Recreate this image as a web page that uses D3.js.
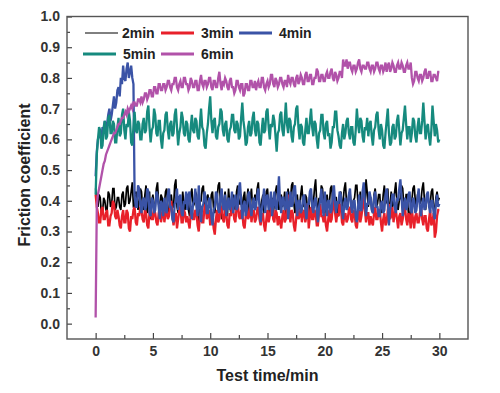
<!DOCTYPE html>
<html>
<head>
<meta charset="utf-8">
<script src="https://cdn.jsdelivr.net/npm/d3@7"></script>
<style>
  body { margin: 0; background: #fff; }
  svg { display: block; font-family: "Liberation Sans", Arial, sans-serif; }
</style>
</head>
<body>
<svg></svg>
<script>
// sample times (min), one row = 2 min
var timeMin = [
  0,.1,.2,.3,.4,.5,.6,.7,.8,.9,1,1.1,1.2,1.3,1.4,1.5,1.6,1.7,1.8,1.9,
  2,2.1,2.2,2.3,2.4,2.5,2.6,2.7,2.8,2.9,3,3.1,3.2,3.3,3.4,3.5,3.6,3.7,3.8,3.9,
  4,4.1,4.2,4.3,4.4,4.5,4.6,4.7,4.8,4.9,5,5.1,5.2,5.3,5.4,5.5,5.6,5.7,5.8,5.9,
  6,6.1,6.2,6.3,6.4,6.5,6.6,6.7,6.8,6.9,7,7.1,7.2,7.3,7.4,7.5,7.6,7.7,7.8,7.9,
  8,8.1,8.2,8.3,8.4,8.5,8.6,8.7,8.8,8.9,9,9.1,9.2,9.3,9.4,9.5,9.6,9.7,9.8,9.9,
  10,10.1,10.2,10.3,10.4,10.5,10.6,10.7,10.8,10.9,11,11.1,11.2,11.3,11.4,11.5,11.6,11.7,11.8,11.9,
  12,12.1,12.2,12.3,12.4,12.5,12.6,12.7,12.8,12.9,13,13.1,13.2,13.3,13.4,13.5,13.6,13.7,13.8,13.9,
  14,14.1,14.2,14.3,14.4,14.5,14.6,14.7,14.8,14.9,15,15.1,15.2,15.3,15.4,15.5,15.6,15.7,15.8,15.9,
  16,16.1,16.2,16.3,16.4,16.5,16.6,16.7,16.8,16.9,17,17.1,17.2,17.3,17.4,17.5,17.6,17.7,17.8,17.9,
  18,18.1,18.2,18.3,18.4,18.5,18.6,18.7,18.8,18.9,19,19.1,19.2,19.3,19.4,19.5,19.6,19.7,19.8,19.9,
  20,20.1,20.2,20.3,20.4,20.5,20.6,20.7,20.8,20.9,21,21.1,21.2,21.3,21.4,21.5,21.6,21.7,21.8,21.9,
  22,22.1,22.2,22.3,22.4,22.5,22.6,22.7,22.8,22.9,23,23.1,23.2,23.3,23.4,23.5,23.6,23.7,23.8,23.9,
  24,24.1,24.2,24.3,24.4,24.5,24.6,24.7,24.8,24.9,25,25.1,25.2,25.3,25.4,25.5,25.6,25.7,25.8,25.9,
  26,26.1,26.2,26.3,26.4,26.5,26.6,26.7,26.8,26.9,27,27.1,27.2,27.3,27.4,27.5,27.6,27.7,27.8,27.9,
  28,28.1,28.2,28.3,28.4,28.5,28.6,28.7,28.8,28.9,29,29.1,29.2,29.3,29.4,29.5,29.6,29.7,29.8,29.9,
  30
];

var min2 = [
  .44,.40,.38,.42,.41,.36,.36,.41,.40,.37,.37,.43,.42,.38,.39,.44,.44,.37,.38,.41,
  .41,.38,.37,.42,.43,.38,.39,.44,.45,.39,.40,.43,.46,.38,.38,.43,.42,.37,.40,.44,
  .43,.38,.37,.42,.45,.36,.39,.43,.34,.40,.42,.37,.38,.44,.46,.39,.36,.42,.41,.37,
  .39,.43,.44,.37,.35,.41,.42,.38,.38,.45,.47,.38,.36,.41,.40,.36,.43,.39,.37,.42,
  .41,.37,.35,.42,.44,.38,.39,.43,.42,.36,.33,.40,.40,.44,.45,.38,.37,.41,.42,.38,
  .38,.42,.43,.37,.36,.40,.41,.45,.46,.39,.34,.38,.40,.43,.38,.35,.44,.39,.36,.41,
  .42,.38,.37,.43,.45,.39,.39,.42,.35,.41,.43,.37,.40,.44,.36,.41,.44,.38,.38,.42,
  .40,.44,.46,.39,.37,.40,.42,.36,.38,.43,.44,.38,.35,.40,.41,.36,.39,.43,.45,.40,
  .37,.41,.42,.38,.39,.43,.34,.40,.44,.38,.40,.45,.46,.39,.36,.41,.42,.37,.38,.42,
  .45,.39,.38,.42,.41,.37,.36,.42,.43,.38,.39,.44,.47,.39,.37,.41,.40,.45,.44,.39,
  .36,.40,.42,.38,.39,.44,.45,.39,.38,.41,.41,.36,.35,.42,.43,.38,.40,.44,.46,.39,
  .38,.42,.43,.38,.37,.40,.41,.45,.45,.39,.39,.43,.36,.40,.42,.37,.47,.43,.38,.41,
  .41,.37,.36,.42,.44,.38,.39,.42,.42,.36,.37,.42,.45,.39,.40,.44,.35,.39,.43,.38,
  .39,.43,.46,.39,.37,.40,.41,.45,.44,.38,.38,.42,.42,.36,.33,.39,.40,.44,.45,.40,
  .38,.42,.43,.39,.40,.44,.46,.40,.37,.41,.42,.38,.39,.43,.44,.38,.36,.41,.43,.40,
  .41
];

var min3 = [
  .42,.38,.36,.33,.33,.37,.38,.34,.34,.36,.37,.32,.32,.35,.36,.40,.39,.35,.34,.37,
  .35,.32,.31,.35,.37,.33,.33,.37,.36,.31,.30,.35,.34,.37,.38,.33,.32,.36,.35,.38,
  .37,.34,.33,.37,.36,.32,.31,.36,.39,.34,.34,.37,.36,.33,.32,.36,.38,.33,.35,.38,
  .33,.36,.37,.34,.35,.39,.40,.35,.32,.35,.36,.31,.34,.37,.38,.33,.33,.37,.36,.33,
  .35,.33,.31,.36,.38,.34,.34,.37,.36,.32,.30,.35,.37,.33,.33,.38,.39,.34,.35,.37,
  .32,.35,.36,.31,.29,.34,.37,.33,.34,.38,.38,.34,.33,.37,.36,.32,.31,.36,.35,.39,
  .37,.34,.33,.38,.40,.35,.34,.37,.36,.32,.31,.35,.38,.34,.35,.39,.33,.36,.37,.33,
  .34,.37,.38,.34,.32,.35,.36,.32,.30,.34,.37,.33,.35,.38,.39,.34,.33,.37,.36,.32,
  .35,.33,.31,.35,.37,.33,.34,.39,.42,.36,.33,.37,.36,.32,.30,.34,.38,.34,.35,.38,
  .33,.36,.37,.33,.35,.39,.31,.35,.38,.34,.34,.37,.36,.32,.32,.36,.39,.35,.35,.33,
  .36,.32,.30,.34,.37,.33,.34,.38,.41,.36,.33,.36,.35,.39,.38,.33,.32,.35,.36,.33,
  .34,.37,.38,.34,.33,.37,.36,.32,.31,.35,.37,.33,.35,.38,.42,.37,.33,.36,.36,.32,
  .35,.33,.32,.36,.38,.34,.34,.37,.37,.33,.30,.34,.36,.32,.33,.37,.39,.34,.35,.38,
  .33,.36,.37,.34,.31,.35,.36,.32,.34,.37,.38,.34,.32,.36,.35,.31,.37,.34,.31,.35,
  .36,.33,.33,.36,.38,.34,.32,.35,.35,.31,.30,.34,.37,.32,.33,.36,.28,.30,.35,.37,
  .37
];

var min4 = [
  .48,.56,.60,.61,.62,.60,.64,.63,.66,.62,.65,.68,.70,.66,.68,.71,.74,.70,.72,.76,
  .77,.74,.80,.78,.84,.80,.79,.83,.85,.80,.82,.84,.80,.78,.42,.38,.38,.45,.44,.39,
  .36,.40,.41,.37,.38,.44,.43,.36,.35,.41,.40,.36,.37,.43,.42,.38,.34,.40,.39,.35,
  .41,.37,.36,.42,.44,.38,.38,.34,.33,.39,.40,.44,.37,.41,.42,.36,.35,.40,.39,.43,
  .37,.42,.43,.37,.34,.39,.40,.44,.38,.35,.45,.39,.33,.38,.39,.43,.41,.36,.36,.41,
  .40,.35,.32,.37,.38,.43,.42,.37,.36,.41,.44,.38,.37,.42,.35,.39,.41,.37,.39,.43,
  .36,.40,.42,.37,.38,.44,.46,.40,.34,.38,.40,.35,.37,.42,.43,.38,.35,.39,.41,.37,
  .38,.42,.44,.38,.33,.37,.40,.44,.36,.41,.42,.37,.39,.43,.35,.39,.43,.38,.37,.42,
  .48,.39,.36,.41,.41,.37,.38,.43,.34,.38,.43,.38,.39,.44,.45,.39,.35,.40,.40,.36,
  .37,.41,.42,.37,.34,.39,.39,.43,.44,.38,.36,.40,.41,.37,.33,.38,.40,.44,.38,.35,
  .43,.38,.35,.40,.40,.36,.37,.42,.45,.39,.36,.40,.39,.43,.42,.37,.34,.39,.41,.37,
  .38,.42,.44,.38,.36,.40,.40,.35,.33,.38,.42,.37,.37,.43,.46,.40,.35,.39,.39,.43,
  .41,.37,.36,.41,.43,.38,.38,.35,.35,.39,.40,.36,.37,.42,.44,.39,.32,.37,.39,.42,
  .42,.38,.36,.41,.40,.44,.47,.41,.35,.39,.41,.37,.38,.42,.43,.37,.36,.41,.40,.36,
  .37,.41,.44,.38,.35,.39,.41,.37,.38,.42,.43,.38,.36,.40,.40,.36,.34,.39,.42,.38,
  .39
];

var min5 = [
  .42,.55,.60,.64,.63,.57,.58,.64,.66,.60,.61,.67,.68,.62,.62,.66,.65,.59,.59,.64,
  .67,.61,.62,.68,.70,.63,.60,.65,.64,.69,.66,.59,.58,.64,.69,.63,.62,.66,.65,.60,
  .60,.65,.67,.62,.63,.69,.71,.64,.59,.63,.64,.70,.68,.62,.61,.66,.66,.60,.57,.62,
  .63,.68,.69,.63,.60,.65,.66,.61,.62,.68,.70,.64,.58,.62,.64,.69,.67,.62,.61,.66,
  .65,.60,.59,.64,.68,.63,.62,.67,.66,.61,.60,.65,.70,.64,.63,.58,.57,.62,.65,.70,
  .74,.66,.62,.66,.67,.61,.60,.64,.65,.70,.69,.63,.61,.65,.66,.60,.59,.63,.64,.68,
  .68,.63,.62,.66,.65,.60,.61,.67,.72,.66,.63,.58,.59,.64,.66,.61,.62,.67,.69,.63,
  .61,.66,.65,.59,.58,.63,.67,.62,.63,.69,.70,.64,.60,.65,.64,.68,.66,.61,.56,.62,
  .63,.68,.69,.63,.61,.66,.72,.65,.62,.67,.66,.61,.59,.64,.65,.70,.71,.64,.60,.65,
  .64,.59,.58,.63,.67,.62,.62,.66,.70,.64,.61,.66,.65,.60,.57,.62,.63,.68,.68,.62,
  .60,.65,.66,.61,.62,.57,.59,.64,.64,.69,.69,.63,.61,.58,.57,.62,.65,.60,.62,.66,
  .67,.62,.60,.64,.64,.59,.58,.63,.70,.65,.62,.67,.66,.61,.59,.64,.63,.67,.61,.65,
  .66,.61,.58,.63,.64,.68,.69,.63,.60,.65,.63,.58,.57,.62,.66,.70,.62,.58,.59,.64,
  .65,.60,.61,.66,.68,.63,.58,.62,.63,.67,.71,.65,.60,.64,.64,.59,.62,.67,.66,.61,
  .59,.64,.67,.62,.62,.66,.72,.66,.60,.64,.65,.61,.58,.63,.71,.66,.61,.65,.63,.59,
  .60
];

var min6 = [
  .02,.38,.42,.44,.46,.48,.50,.52,.53,.55,.56,.57,.58,.59,.60,.61,.62,.62,.63,.64,
  .65,.65,.66,.67,.67,.68,.69,.68,.70,.69,.70,.71,.70,.72,.72,.71,.71,.73,.73,.72,
  .74,.72,.73,.75,.75,.73,.74,.76,.76,.74,.74,.77,.77,.75,.75,.78,.78,.76,.76,.78,
  .78,.76,.77,.79,.79,.77,.76,.78,.78,.80,.80,.77,.76,.78,.79,.77,.77,.80,.80,.78,
  .78,.76,.77,.80,.79,.77,.77,.79,.79,.76,.76,.79,.81,.78,.77,.79,.79,.77,.78,.80,
  .80,.77,.76,.79,.79,.77,.77,.80,.82,.78,.76,.79,.78,.80,.79,.77,.76,.79,.80,.77,
  .77,.75,.76,.79,.79,.77,.76,.78,.78,.74,.75,.78,.78,.76,.76,.79,.79,.77,.77,.79,
  .76,.78,.79,.77,.77,.80,.80,.77,.76,.78,.79,.77,.78,.81,.81,.78,.77,.80,.79,.77,
  .78,.80,.80,.78,.77,.79,.79,.77,.81,.79,.78,.80,.80,.78,.77,.80,.81,.78,.79,.81,
  .80,.78,.78,.81,.82,.79,.79,.81,.81,.78,.78,.80,.80,.83,.82,.79,.79,.81,.81,.79,
  .79,.81,.82,.80,.80,.82,.83,.80,.79,.82,.81,.79,.80,.82,.82,.80,.86,.84,.84,.86,
  .83,.85,.85,.83,.82,.84,.84,.82,.83,.85,.86,.83,.82,.84,.84,.83,.83,.85,.85,.83,
  .82,.84,.84,.82,.83,.85,.85,.83,.82,.84,.84,.82,.83,.85,.82,.84,.85,.82,.83,.85,
  .84,.82,.82,.84,.85,.83,.83,.85,.84,.82,.82,.84,.85,.83,.83,.85,.80,.78,.79,.82,
  .82,.80,.79,.81,.81,.79,.80,.82,.83,.80,.80,.82,.82,.79,.79,.81,.81,.80,.79,.82,
  .82
];

var seriesNames = ["2min", "3min", "4min", "5min", "6min"],
    seriesColors = ["#000000", "#e8202a", "#3a53a6", "#168a7e", "#b152a9"],
    seriesData = [min2, min3, min4, min5, min6],
    xTicks = [0, 5, 10, 15, 20, 25, 30],
    xMinorTicks = [2.5, 7.5, 12.5, 17.5, 22.5, 27.5],
    yTicks = [0, .1, .2, .3, .4, .5, .6, .7, .8, .9, 1.0],
    yMinorTicks = [.05, .15, .25, .35, .45, .55, .65, .75, .85, .95];

var margin = {top: 16.5, right: 32, bottom: 54, left: 67},
    width = 500,
    height = 393,
    svg = d3.select("svg").attr("width", width).attr("height", height),
    x = d3.scaleLinear().domain([-2.5, 32.5]).range([margin.left, width - margin.right]),
    y = d3.scaleLinear().domain([-0.05, 1.0]).range([height - margin.bottom, margin.top]);

// data lines
var line = d3.line()
    .x(function(d, i) { return x(timeMin[i]); })
    .y(function(d) { return y(d); });

svg.append("g")
    .selectAll("path")
    .data(seriesData)
    .enter().append("path")
    .attr("d", line)
    .attr("fill", "none")
    .attr("stroke", function(d, i) { return seriesColors[i]; })
    .attr("stroke-width", function(d, i) { return i == 0 ? 1.7 : 2.3; })
    .attr("stroke-linejoin", "miter");

// axes (ticks point inward)
svg.append("g")
    .attr("transform", "translate(0," + (height - margin.bottom) + ")")
    .call(d3.axisBottom(x).tickValues(xTicks).tickSize(-6).tickPadding(7)
        .tickFormat(d3.format("d")));

svg.append("g")
    .attr("transform", "translate(0," + (height - margin.bottom) + ")")
    .call(d3.axisBottom(x).tickValues(xMinorTicks).tickSize(-4).tickFormat(""));

svg.append("g")
    .attr("transform", "translate(" + margin.left + ",0)")
    .call(d3.axisLeft(y).tickValues(yTicks).tickSize(-5).tickPadding(7)
        .tickFormat(d3.format(".1f")));

svg.append("g")
    .attr("transform", "translate(" + margin.left + ",0)")
    .call(d3.axisLeft(y).tickValues(yMinorTicks).tickSize(-3).tickFormat(""));

svg.selectAll(".domain").remove();
svg.selectAll(".tick line").attr("stroke", "#444").attr("stroke-width", 1.2);
svg.selectAll(".tick text")
    .attr("fill", "#333")
    .style("font-size", "14px")
    .style("font-weight", "bold");

// frame
svg.append("rect")
    .attr("x", margin.left)
    .attr("y", margin.top)
    .attr("width", width - margin.left - margin.right)
    .attr("height", height - margin.top - margin.bottom)
    .attr("fill", "none")
    .attr("stroke", "#555")
    .attr("stroke-width", 1.4);

// axis titles
svg.append("text")
    .attr("x", (margin.left + width - margin.right) / 2)
    .attr("y", 381)
    .attr("text-anchor", "middle")
    .attr("fill", "#222")
    .style("font-size", "16px")
    .style("font-weight", "bold")
    .text("Test time/min");

svg.append("text")
    .attr("transform", "translate(30,175) rotate(-90)")
    .attr("text-anchor", "middle")
    .attr("fill", "#222")
    .style("font-size", "16px")
    .style("font-weight", "bold")
    .text("Friction coefficient");

// legend
var legendPos = [[85, 33], [161, 33], [239, 33], [83, 54], [161, 54]],
    legendLine = 33;

var legend = svg.append("g")
    .selectAll("g")
    .data(seriesNames)
    .enter().append("g")
    .attr("transform", function(d, i) {
        return "translate(" + legendPos[i][0] + "," + legendPos[i][1] + ")";
    });

legend.append("line")
    .attr("x1", 0)
    .attr("x2", legendLine)
    .attr("stroke", function(d, i) { return seriesColors[i]; })
    .attr("stroke-width", function(d, i) { return i == 0 ? 1 : 3; });

legend.append("text")
    .attr("x", function(d, i) { return i == 0 ? 37 : 40; })
    .attr("y", 5)
    .attr("fill", "#222")
    .style("font-size", "14px")
    .style("font-weight", "bold")
    .text(function(d) { return d; });
</script>
</body>
</html>
